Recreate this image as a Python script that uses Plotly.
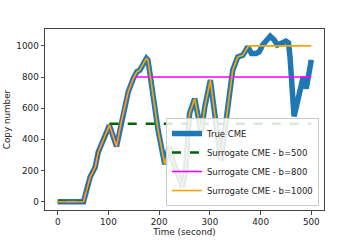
import plotly.graph_objects as go

# True CME trajectory (time in seconds, copy number)
time_true = [0, 51, 64, 74, 80, 87, 93, 102, 116, 126, 139, 149, 156, 162, 169, 175, 178,
             188, 198, 211, 220, 227, 237, 246, 252, 260, 270, 276, 283, 290, 301, 313, 322,
             332, 339, 345, 355, 365, 375, 382, 391, 397, 404, 411, 419, 427, 433, 441,
             450, 455, 458, 466, 476, 484, 490, 500]
copy_true = [0, 0, 158, 222, 319, 373, 426, 490, 355, 522, 704, 790, 833, 844, 887, 919, 908,
             672, 458, 240, 351, 265, 180, 94, 200, 565, 662, 565, 447, 608, 780, 479, 265,
             522, 704, 844, 929, 940, 994, 951, 951, 961, 1005, 1026, 1062, 1037, 1005, 1016,
             1030, 1019, 929, 548, 694, 801, 726, 910]

# Surrogate CME with bound b: follows true until reaching b, then stays at b
b500_time = [0, 51, 64, 74, 80, 87, 93, 102, 104, 500]
b500_copy = [0, 0, 158, 222, 319, 373, 426, 490, 500, 500]

b800_time = [0, 51, 64, 74, 80, 87, 93, 102, 116, 126, 139, 149, 152, 500]
b800_copy = [0, 0, 158, 222, 319, 373, 426, 490, 355, 522, 704, 790, 800, 800]

b1000_time = time_true[:time_true.index(375) + 1] + [377, 500]
b1000_copy = copy_true[:time_true.index(375) + 1] + [1000, 1000]

x_ticks = [0, 100, 200, 300, 400, 500]
y_ticks = [0, 200, 400, 600, 800, 1000]

FONT = "DejaVu Sans"

fig = go.Figure()
fig.add_trace(go.Scatter(x=time_true, y=copy_true, mode="lines", name="True CME",
                         line=dict(color="#1f77b4", width=5.5)))
fig.add_trace(go.Scatter(x=b500_time, y=b500_copy, mode="lines", name="Surrogate CME - b=500",
                         line=dict(color="#006400", width=2.5, dash="dash")))
fig.add_trace(go.Scatter(x=b800_time, y=b800_copy, mode="lines", name="Surrogate CME - b=800",
                         line=dict(color="#ff00ff", width=1.6)))
fig.add_trace(go.Scatter(x=b1000_time, y=b1000_copy, mode="lines", name="Surrogate CME - b=1000",
                         line=dict(color="#ffa500", width=1.6)))

axis_common = dict(showgrid=False, zeroline=False, showline=True, mirror=True,
                   linecolor="#444", linewidth=1, ticks="outside", ticklen=3.5,
                   tickcolor="#444", tickwidth=1, automargin=False,
                   tickfont=dict(family=FONT, size=8.8, color="#222"))

fig.update_layout(
    width=360, height=240,
    margin=dict(l=45, r=36, t=29, b=30),
    paper_bgcolor="white", plot_bgcolor="white",
    font=dict(family=FONT, size=8.8, color="#222"),
    xaxis=dict(range=[-25, 525], tickvals=x_ticks,
               title=dict(text="Time (second)", font=dict(family=FONT, size=8.8), standoff=1),
               **axis_common),
    yaxis=dict(range=[-53, 1108], tickvals=y_ticks,
               title=dict(text="Copy number", font=dict(family=FONT, size=8.8), standoff=4),
               **axis_common),
    showlegend=True,
    legend=dict(x=0.982, y=0.022, xanchor="right", yanchor="bottom",
                bgcolor="rgba(255,255,255,0.85)", bordercolor="#cccccc", borderwidth=1,
                font=dict(family=FONT, size=8.5, color="#222"),
                tracegroupgap=0, itemwidth=30),
)

fig.write_html("out.html", config={"displayModeBar": False},
               post_script="document.body.style.margin='0px';document.body.style.overflow='hidden';")
